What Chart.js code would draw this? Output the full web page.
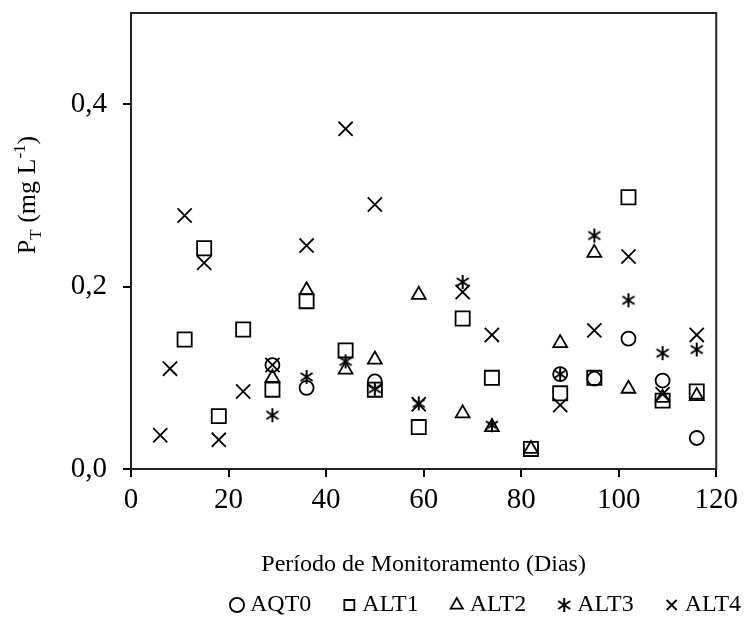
<!DOCTYPE html>
<html>
<head>
<meta charset="utf-8">
<script src="https://cdn.jsdelivr.net/npm/chart.js@4.4.1/dist/chart.umd.min.js"></script>
<style>
  body { margin: 0; background: #fff; }
  canvas { display: block; }
</style>
</head>
<body>
<canvas id="ptChart" width="744" height="627"></canvas>
<script>
// Series (days, P total in mg/L)
const seriesNames = ['AQT0', 'ALT1', 'ALT2', 'ALT3', 'ALT4'];

const aqt0Days = [29, 36, 50, 88, 95, 102, 109, 116];
const aqt0Vals = [0.114, 0.089, 0.096, 0.104, 0.099, 0.143, 0.097, 0.034];

const alt1Days = [11, 15, 18, 23, 29, 36, 44, 50, 59, 68, 74, 82, 88, 95, 102, 109, 116];
const alt1Vals = [0.142, 0.242, 0.058, 0.153, 0.087, 0.184, 0.130, 0.087, 0.046, 0.165, 0.100, 0.022, 0.083, 0.100, 0.298, 0.075, 0.085];

const alt2Days = [29, 36, 44, 50, 59, 68, 74, 82, 88, 95, 102, 109, 116];
const alt2Vals = [0.100, 0.196, 0.109, 0.120, 0.191, 0.061, 0.046, 0.022, 0.138, 0.237, 0.088, 0.078, 0.080];

const alt3Days = [29, 36, 44, 50, 59, 68, 74, 88, 95, 102, 109, 116];
const alt3Vals = [0.059, 0.101, 0.118, 0.088, 0.072, 0.205, 0.048, 0.104, 0.256, 0.185, 0.127, 0.131];

const alt4Days = [6, 8, 11, 15, 18, 23, 29, 36, 44, 50, 59, 68, 74, 88, 95, 102, 109, 116];
const alt4Vals = [0.037, 0.110, 0.278, 0.226, 0.032, 0.085, 0.114, 0.245, 0.373, 0.290, 0.071, 0.194, 0.147, 0.070, 0.152, 0.233, 0.082, 0.147];

const xTicks = [0, 20, 40, 60, 80, 100, 120];
const yTicks = [0, 0.2, 0.4];

function toPoints(days, vals) {
    return days.map((d, i) => ({ x: d, y: vals[i] }));
}

// six-armed asterisk marker for ALT3
function asteriskMarker() {
    const c = document.createElement('canvas');
    c.width = 16; c.height = 16;
    const g = c.getContext('2d');
    g.strokeStyle = '#000';
    g.lineWidth = 2;
    g.beginPath();
    g.moveTo(8, 1); g.lineTo(8, 15);
    g.moveTo(2, 4); g.lineTo(14, 12);
    g.moveTo(14, 4); g.lineTo(2, 12);
    g.stroke();
    return c;
}

const serif = 'Liberation Serif, Times New Roman, serif';

// box around plot area + rotated y title with sub/superscript
const framePlugin = {
    id: 'frame',
    afterLayout(chart) {
        // push the legend row to the right like the original
        chart.legend.left = 199;
        chart.legend.right = 1000;
    },
    afterDraw(chart) {
        const { ctx, chartArea: a } = chart;
        ctx.save();
        ctx.strokeStyle = '#222';
        ctx.lineWidth = 2;
        ctx.strokeRect(a.left, a.top, a.right - a.left, a.bottom - a.top);

        // y axis title
        const big = 26, small = 17;
        const parts = [
            { t: 'P', s: big, dy: 0 },
            { t: 'T', s: small, dy: 6 },
            { t: ' (mg L', s: big, dy: 0 },
            { t: '-1', s: small, dy: -10 },
            { t: ')', s: big, dy: 0 }
        ];
        let total = 0;
        parts.forEach(p => {
            ctx.font = p.s + 'px ' + serif;
            p.w = ctx.measureText(p.t).width;
            total += p.w;
        });
        ctx.translate(26, 195);
        ctx.rotate(-Math.PI / 2);
        ctx.fillStyle = '#000';
        ctx.textBaseline = 'alphabetic';
        let x = -total / 2;
        parts.forEach(p => {
            ctx.font = p.s + 'px ' + serif;
            ctx.fillText(p.t, x, 9 + p.dy);
            x += p.w;
        });
        ctx.restore();
    }
};

const markerStyles = ['circle', 'rect', 'triangle', asteriskMarker(), 'crossRot'];
const markerRadius = [7, 10, 8, 8, 10];
const allDays = [aqt0Days, alt1Days, alt2Days, alt3Days, alt4Days];
const allVals = [aqt0Vals, alt1Vals, alt2Vals, alt3Vals, alt4Vals];

const datasets = seriesNames.map((name, i) => ({
    label: name,
    data: toPoints(allDays[i], allVals[i]),
    pointStyle: markerStyles[i],
    pointRadius: markerRadius[i],
    pointHoverRadius: markerRadius[i],
    pointBorderWidth: 1.8,
    borderColor: '#000',
    backgroundColor: 'rgba(0,0,0,0)',
    pointBorderColor: '#000',
    pointBackgroundColor: 'rgba(0,0,0,0)'
}));

const ctx = document.getElementById('ptChart').getContext('2d');
new Chart(ctx, {
    type: 'scatter',
    data: { datasets: datasets },
    plugins: [framePlugin],
    options: {
        responsive: false,
        animation: false,
        layout: { padding: { top: 13, right: 24, left: 0, bottom: 0 } },
        plugins: {
            tooltip: { enabled: false },
            legend: {
                position: 'bottom',
                align: 'start',
                labels: {
                    usePointStyle: true,
                    boxWidth: 2,
                    boxHeight: 10,
                    padding: 37,
                    color: '#000',
                    font: { family: serif, size: 24 }
                }
            }
        },
        scales: {
            x: {
                type: 'linear',
                min: 0,
                max: 120,
                afterBuildTicks: s => { s.ticks = xTicks.map(v => ({ value: v })); },
                afterFit: s => { s.height = 158 - s.chart.legend.height; },
                border: { display: false },
                grid: { display: true, drawOnChartArea: false, tickLength: 8, color: '#000', lineWidth: 2 },
                ticks: { color: '#000', padding: 6, maxRotation: 0, font: { family: serif, size: 29 } },
                title: {
                    display: true,
                    text: 'Período de Monitoramento (Dias)',
                    color: '#000',
                    padding: { top: 4, bottom: -23 },
                    font: { family: serif, size: 24 }
                }
            },
            y: {
                type: 'linear',
                min: 0,
                max: 0.5,
                afterBuildTicks: s => { s.ticks = yTicks.map(v => ({ value: v })); },
                afterFit: s => { s.width = 131; s.paddingTop = 0; s.paddingBottom = 0; },
                border: { display: false },
                grid: { display: true, drawOnChartArea: false, tickLength: 8, color: '#000', lineWidth: 2 },
                ticks: {
                    color: '#000',
                    padding: 16,
                    font: { family: serif, size: 29 },
                    callback: v => v.toFixed(1).replace('.', ',')
                }
            }
        }
    }
});
</script>
</body>
</html>
